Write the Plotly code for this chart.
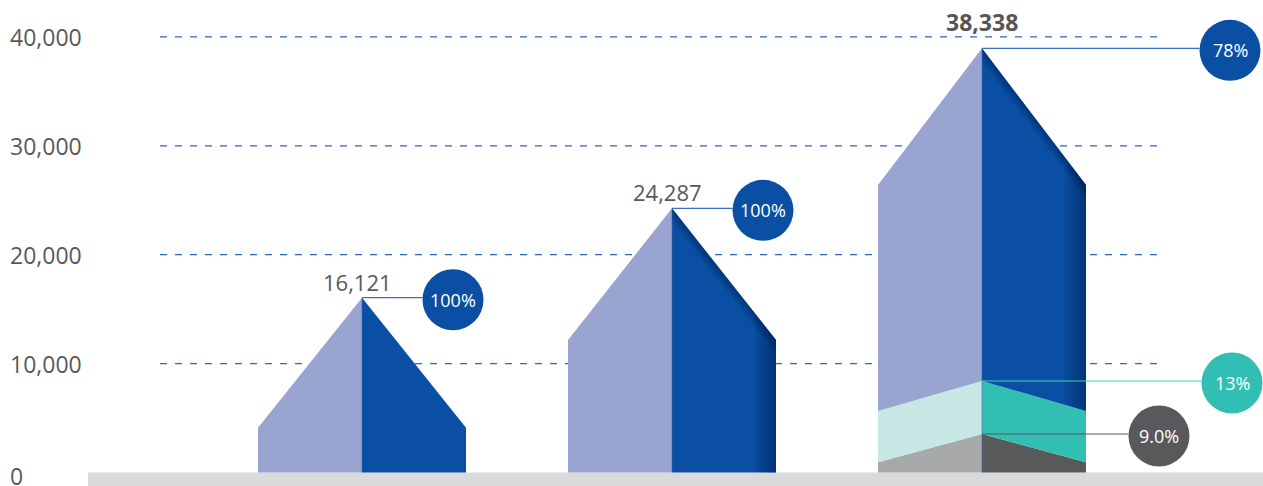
import plotly.graph_objects as go

# ---------------- data ----------------
categories = ["A", "B", "C"]
totals = [16121, 24287, 38338]            # printed value labels
peak_heights = [16050, 24260, 38950]      # drawn apex height
shoulder_heights = [4110, 12170, 26400]   # height where the roof starts
share_labels = [["100%"], ["100%"], ["78%", "13%", "9.0%"]]
# third bar is stacked: chevron boundaries (apex, edge)
gray_apex, gray_edge = 3535, 940
teal_apex, teal_edge = 8400, 5650
tick_values = [0, 10000, 20000, 30000, 40000]
tick_labels = ["0", "10,000", "20,000", "30,000", "40,000"]

# ---------------- geometry helpers (pixel -> data scale) ----------------
W, H = 1263, 486
PX_X = 1 / 310.0           # one pixel in x units (bar spacing 310 px)
PX_Y = 10000 / 108.9       # one pixel in y units
HALF = 104 * PX_X          # half bar width
x_range = [-362 * PX_X, (W - 362) * PX_X]
y_range = [-(H - 472.5) * PX_Y, 472.5 * PX_Y]

C_PURPLE = "#99A4D0"
C_BLUE = "#0A4FA3"
C_TEAL_L = "#C6E7E4"
C_TEAL = "#31BFB4"
C_GRAY_L = "#A7A8AA"
C_GRAY = "#58595B"
TXT = "#595959"

fig = go.Figure()


def poly(xs, ys, color, opacity=1.0):
    fig.add_trace(go.Scatter(x=xs + [xs[0]], y=ys + [ys[0]], fill="toself",
                             fillcolor=color, mode="lines", line=dict(width=0),
                             opacity=opacity, hoverinfo="skip", showlegend=False))


shaded = [False, True, True]
for i, cat in enumerate(categories):
    c = i
    L, R = c - HALF, c + HALF
    pk, sh = peak_heights[i], shoulder_heights[i]
    if i < 2:
        poly([L, L, c, c], [0, sh, pk, 0], C_PURPLE)
        poly([c, c, R, R], [0, pk, sh, 0], C_BLUE)
        bot_apex, bot_edge = 0, 0
    else:
        # left (light) half
        poly([L, L, c, c], [0, gray_edge, gray_apex, 0], C_GRAY_L)
        poly([L, L, c, c], [gray_edge, teal_edge, teal_apex, gray_apex], C_TEAL_L)
        poly([L, L, c, c], [teal_edge, sh, pk, teal_apex], C_PURPLE)
        # right (dark) half
        poly([c, c, R, R], [0, gray_apex, gray_edge, 0], C_GRAY)
        poly([c, c, R, R], [gray_apex, teal_apex, teal_edge, gray_edge], C_TEAL)
        poly([c, c, R, R], [teal_apex, pk, sh, teal_edge], C_BLUE)
        bot_apex, bot_edge = teal_apex, teal_edge
    if shaded[i]:
        n = 8

        def bottom(x):
            return bot_edge + (bot_apex - bot_edge) * (R - x) / HALF

        def top(x):
            return sh + (pk - sh) * (R - x) / HALF

        for k in range(n):
            w = 22 * (k + 1) / n * PX_X
            xl = R - w
            poly([xl, xl, R, R], [bottom(xl), top(xl), sh, bot_edge],
                 "rgb(2,25,60)", 0.055)
            d = 14 * (k + 1) / n * PX_Y
            poly([c, R, R, c], [pk, sh, sh - d, pk - d], "rgb(2,25,60)", 0.05)
    fig.add_trace(go.Scatter(x=[c, c], y=[0, pk], mode="lines",
                             line=dict(color="rgba(60,100,180,0.6)", width=1),
                             hoverinfo="skip", showlegend=False))

shapes = []
# dashed gridlines
for v in tick_values[1:]:
    shapes.append(dict(type="line", xref="x", yref="y",
                       x0=(160 - 362) * PX_X, x1=(1160 - 362) * PX_X, y0=v, y1=v,
                       line=dict(color="#2A66C0", width=1.2, dash="7px,8px"),
                       layer="below"))
# base band
shapes.append(dict(type="rect", xref="paper", yref="y", x0=88 / W, x1=1,
                   y0=-(H - 472) * PX_Y, y1=0, fillcolor="#D9DADB",
                   line=dict(width=0), layer="below"))

annotations = []
for v, t in zip(tick_values, tick_labels):
    annotations.append(dict(xref="paper", yref="y", x=8 / W, y=v, text=t,
                            xanchor="left", yanchor="middle", showarrow=False,
                            yshift=-3 if v == 0 else 0,
                            font=dict(family="Open Sans", size=23, color=TXT)))

# value labels
for i, t in enumerate(totals):
    bold = i == 2
    annotations.append(dict(xref="x", yref="y", x=i, y=peak_heights[i],
                            text=(f"<b>{t:,}</b>" if bold else f"{t:,}"),
                            xanchor="center", yanchor="middle", showarrow=False,
                            xshift=-5 if not bold else 0,
                            yshift=26 if bold else 16,
                            font=dict(family="Open Sans", size=23 if bold else 22,
                                      color="#555555" if bold else TXT)))

# call-outs: (bar, level value, x offset px, color, line color, label)
callouts = [
    (0, peak_heights[0], 91, C_BLUE, "#3A70C0", share_labels[0][0]),
    (1, peak_heights[1], 91, C_BLUE, "#3A70C0", share_labels[1][0]),
    (2, peak_heights[2], 248, C_BLUE, "#3A70C0", share_labels[2][0]),
    (2, teal_apex, 250, C_TEAL, "#4CC9BF", share_labels[2][1]),
    (2, gray_apex, 177, C_GRAY, "#58595B", share_labels[2][2]),
]
r = 30.5
for b, yv, off, col, lcol, lab in callouts:
    shapes.append(dict(type="line", xref="x", yref="y", x0=b, x1=b + (off - r) * PX_X,
                       y0=yv, y1=yv, line=dict(color=lcol, width=1.2)))
    shapes.append(dict(type="circle", xref="x", yref="y", xsizemode="pixel",
                       ysizemode="pixel", xanchor=b + off * PX_X, yanchor=yv,
                       x0=-r, x1=r, y0=-r - 2, y1=r - 2, fillcolor=col,
                       line=dict(width=0)))
    annotations.append(dict(xref="x", yref="y", x=b + off * PX_X, y=yv, text=lab,
                            showarrow=False, xanchor="center", yanchor="middle",
                            yshift=-2,
                            font=dict(family="Open Sans", size=18, color="white")))

fig.update_layout(
    width=W, height=H, margin=dict(l=0, r=0, t=0, b=0),
    paper_bgcolor="white", plot_bgcolor="white",
    xaxis=dict(range=x_range, visible=False, fixedrange=True),
    yaxis=dict(range=y_range, visible=False, fixedrange=True),
    shapes=shapes, annotations=annotations, showlegend=False,
)
fig.write_html("out.html", config={"displayModeBar": False})
